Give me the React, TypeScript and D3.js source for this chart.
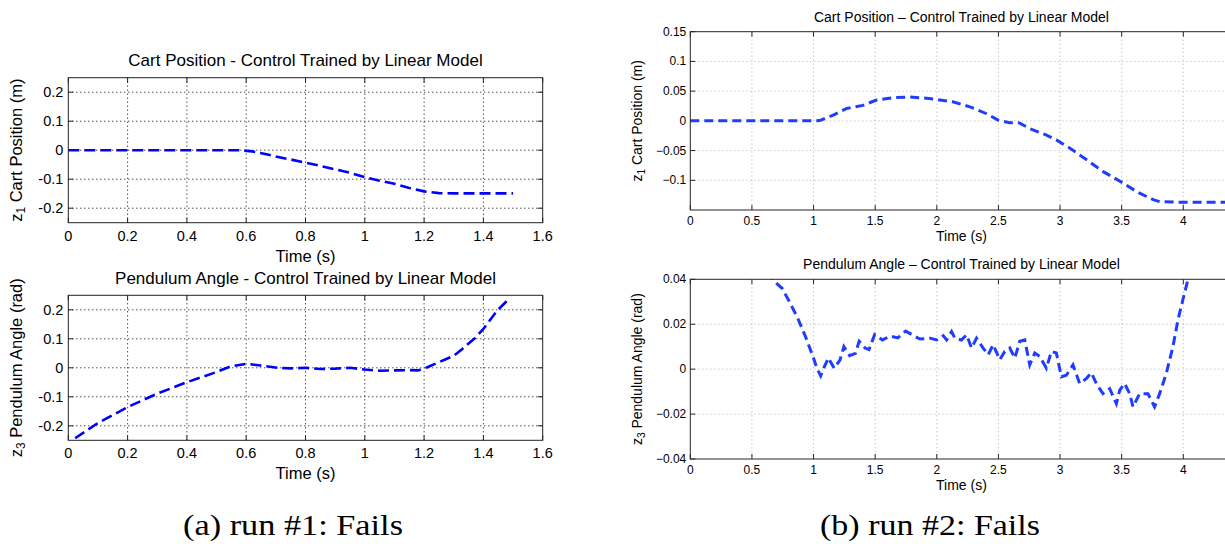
import React from "react";
import * as d3 from "d3";

// ---------- data ----------
const timeTicksA = [0, 0.2, 0.4, 0.6, 0.8, 1, 1.2, 1.4, 1.6];
const valueTicksA = [-0.2, -0.1, 0, 0.1, 0.2];

const cartTime1 = [0, 0.1, 0.2, 0.3, 0.4, 0.5, 0.58, 0.62, 0.66, 0.7, 0.75, 0.8, 0.85, 0.9, 0.95, 1.0, 1.05, 1.1, 1.15, 1.2, 1.25, 1.3, 1.4, 1.5];
const cartPos1 = [0, 0, 0, 0, 0, 0, 0, -0.004, -0.012, -0.022, -0.032, -0.043, -0.054, -0.066, -0.078, -0.093, -0.105, -0.116, -0.13, -0.142, -0.148, -0.149, -0.149, -0.149];

const pendTime1 = [0.023, 0.096, 0.199, 0.298, 0.399, 0.499, 0.546, 0.6, 0.648, 0.704, 0.75, 0.8, 0.85, 0.9, 0.95, 1.0, 1.05, 1.1, 1.15, 1.18, 1.211, 1.267, 1.301, 1.329, 1.369, 1.4, 1.447, 1.481];
const pendAng1 = [-0.243, -0.193, -0.136, -0.09, -0.05, -0.015, 0.0045, 0.0137, 0.008, 0.0, -0.002, 0.0, -0.004, -0.003, 0.0, -0.006, -0.01, -0.009, -0.008, -0.009, 0.002, 0.027, 0.042, 0.065, 0.1, 0.134, 0.198, 0.232];

const timeTicksB = [0, 0.5, 1, 1.5, 2, 2.5, 3, 3.5, 4];
const cartTicksB = [-0.1, -0.05, 0, 0.05, 0.1, 0.15];
const pendTicksB = [-0.04, -0.02, 0, 0.02, 0.04];

const cartTime2 = [0, 0.5, 1.0, 1.05, 1.16, 1.27, 1.4, 1.51, 1.65, 1.78, 1.89, 2.0, 2.13, 2.27, 2.4, 2.5, 2.59, 2.67, 2.75, 2.89, 2.97, 3.08, 3.22, 3.35, 3.49, 3.62, 3.76, 3.81, 4.0, 4.4];
const cartPos2 = [0, 0, 0, 0.0005, 0.0096, 0.021, 0.026, 0.035, 0.039, 0.04, 0.0386, 0.036, 0.032, 0.0235, 0.0124, 0.001, -0.003, -0.0034, -0.0128, -0.024, -0.032, -0.046, -0.066, -0.0855, -0.102, -0.119, -0.133, -0.136, -0.137, -0.137];

const pendTime2 = [
  0.55, 0.667, 0.745, 0.808, 0.87, 0.933, 0.995, 1.027, 1.058, 1.089, 1.12,
  1.167, 1.214, 1.246, 1.293, 1.34, 1.37, 1.418, 1.45, 1.496, 1.559,
  1.62, 1.684, 1.747, 1.81,
  1.863, 1.944, 1.998, 2.052, 2.08, 2.12, 2.147, 2.2, 2.241, 2.282,
  2.322, 2.376, 2.417, 2.457, 2.511, 2.552, 2.592, 2.633, 2.673, 2.714,
  2.754, 2.795, 2.835, 2.889, 2.93, 2.97, 3.011, 3.051, 3.105, 3.159,
  3.213, 3.254, 3.294, 3.348, 3.403, 3.457, 3.484, 3.524, 3.565, 3.592,
  3.646, 3.713, 3.767, 3.808, 3.862, 3.916, 3.957, 3.997, 4.038, 4.08,
];
const pendAng2 = [
  0.055, 0.0398, 0.036, 0.0296, 0.0229, 0.0147, 0.0057, 0.0004, -0.003, 0.0012, 0.005,
  0.0004, 0.004, 0.01, 0.006, 0.007, 0.0124, 0.0094, 0.0087, 0.0154, 0.013,
  0.0147, 0.0139, 0.0169, 0.015,
  0.0134, 0.0138, 0.013, 0.0149, 0.013, 0.0167, 0.0138, 0.013, 0.0153, 0.0094,
  0.0138, 0.0094, 0.0064, 0.0109, 0.0042, 0.0079, 0.0094, 0.0049, 0.0124, 0.013,
  0.0019, 0.0072, 0.0057, 0.0004, 0.0079, 0.0072, -0.0034, -0.0027, 0.0019, -0.0064,
  -0.0042, -0.0016, -0.0064, -0.0109, -0.0087, -0.0154, -0.0094, -0.0064, -0.0109, -0.0168,
  -0.0109, -0.0109, -0.0168, -0.0109, -0.0019, 0.0101, 0.022, 0.031, 0.04, 0.05,
];

const titleCartA = "Cart Position - Control Trained by Linear Model";
const titlePendA = "Pendulum Angle - Control Trained by Linear Model";
const titleCartB = "Cart Position \u2013 Control Trained by Linear Model";
const titlePendB = "Pendulum Angle \u2013 Control Trained by Linear Model";
const captionA = "(a) run #1: Fails";
const captionB = "(b) run #2: Fails";

// ---------- panel ----------
type PanelProps = {
  id: string;
  box: { x0: number; x1: number; y0: number; y1: number };
  xDomain: [number, number];
  yDomain: [number, number];
  xTicks: number[];
  yTicks: number[];
  xs: number[];
  ys: number[];
  title: string;
  yLabelMain: string;
  sub: string;
  style: any;
};

function fmt(v: number) {
  return String(Math.round(v * 1000) / 1000);
}

function Panel(p: PanelProps) {
  const { box, style: st } = p;
  const x = d3.scaleLinear().domain(p.xDomain).range([box.x0, box.x1]);
  const y = d3.scaleLinear().domain(p.yDomain).range([box.y1, box.y0]);
  const line = d3
    .line<[number, number]>()
    .x((d) => x(d[0]))
    .y((d) => y(d[1]));
  const pts = d3.zip(p.xs, p.ys) as [number, number][];
  const tl = st.tickLen;
  const minus = (s: string) => (st.unicodeMinus ? s.replace("-", "\u2212") : s);
  const cx = (box.x0 + box.x1) / 2;
  const cy = (box.y0 + box.y1) / 2;
  return (
    <g fontFamily={st.font} fill="#000">
      <defs>
        <clipPath id={p.id}>
          <rect x={box.x0} y={box.y0} width={box.x1 - box.x0} height={box.y1 - box.y0} />
        </clipPath>
      </defs>
      {p.xTicks.filter((t) => t > p.xDomain[0] && t < p.xDomain[1]).map((t) => (
        <line key={"gx" + t} x1={x(t)} x2={x(t)} y1={box.y0} y2={box.y1} stroke={st.gridColor} strokeWidth={1} strokeDasharray="1,3" />
      ))}
      {p.yTicks.filter((t) => t > p.yDomain[0] && t < p.yDomain[1]).map((t) => (
        <line key={"gy" + t} x1={box.x0} x2={box.x1} y1={y(t)} y2={y(t)} stroke={st.gridColor} strokeWidth={1} strokeDasharray="1,3" />
      ))}
      {p.xTicks.map((t) => (
        <g key={"tx" + t}>
          <line x1={x(t)} x2={x(t)} y1={box.y1} y2={box.y1 - tl} stroke={st.axisColor} />
          <line x1={x(t)} x2={x(t)} y1={box.y0} y2={box.y0 + tl} stroke={st.axisColor} />
        </g>
      ))}
      {p.yTicks.map((t) => (
        <g key={"ty" + t}>
          <line x1={box.x0} x2={box.x0 + tl} y1={y(t)} y2={y(t)} stroke={st.axisColor} />
          <line x1={box.x1} x2={box.x1 - tl} y1={y(t)} y2={y(t)} stroke={st.axisColor} />
        </g>
      ))}
      <path
        d={line(pts) || ""}
        fill="none"
        stroke={st.lineColor}
        strokeWidth={st.lineWidth}
        strokeDasharray={st.dash}
        clipPath={`url(#${p.id})`}
      />
      <rect x={box.x0} y={box.y0} width={box.x1 - box.x0} height={box.y1 - box.y0} fill="none" stroke={st.axisColor} strokeWidth={1} />
      {p.xTicks.map((t) => (
        <text key={"lx" + t} x={x(t)} y={box.y1 + st.xLabOff} textAnchor="middle" dominantBaseline="central" fontSize={st.tickFont}>
          {fmt(t)}
        </text>
      ))}
      {p.yTicks.map((t) => (
        <text key={"ly" + t} x={box.x0 - st.yLabOff} y={y(t)} textAnchor="end" dominantBaseline="central" fontSize={st.tickFont}>
          {minus(fmt(t))}
        </text>
      ))}
      <text x={cx} y={box.y0 - st.titleOff} textAnchor="middle" dominantBaseline="central" fontSize={st.titleFont}>
        {p.title}
      </text>
      <text x={cx} y={box.y1 + st.xTitleOff} textAnchor="middle" dominantBaseline="central" fontSize={st.labelFont}>
        Time (s)
      </text>
      <text
        transform={`translate(${st.yTitleX},${cy}) rotate(-90)`}
        textAnchor="middle"
        dominantBaseline="central"
        fontSize={st.labelFont}
      >
        z<tspan fontSize={st.labelFont * 0.72} dy={st.labelFont * 0.3}>{p.sub}</tspan>
        <tspan dy={-st.labelFont * 0.3}>{" " + p.yLabelMain}</tspan>
      </text>
    </g>
  );
}

const styleA = {
  font: "'Liberation Sans', Arial, sans-serif",
  gridColor: "#000",
  axisColor: "#222",
  lineColor: "#0000ff",
  lineWidth: 2.6,
  dash: "11,5",
  tickLen: 5,
  tickFont: 14.5,
  titleFont: 17,
  labelFont: 16.5,
  xLabOff: 13,
  yLabOff: 5,
  titleOff: 17,
  xTitleOff: 33,
  yTitleX: 16,
  unicodeMinus: false,
};

const styleB = {
  font: "'Liberation Sans', Arial, sans-serif",
  gridColor: "#b0b0b0",
  axisColor: "#262626",
  lineColor: "#1f3dff",
  lineWidth: 3,
  dash: "9,5",
  tickLen: 5,
  tickFont: 12,
  titleFont: 14,
  labelFont: 14,
  xLabOff: 11,
  yLabOff: 4,
  titleOff: 15,
  xTitleOff: 26,
  yTitleX: 637,
  unicodeMinus: true,
};

const captionFont = "'Liberation Serif', 'Times New Roman', serif";

export default function App() {
  const xA0 = 68.3, xA1 = 542.7;
  const xB0 = 690.3, xB1 = 690.3 + 4.4 * 123.25;
  return (
    <svg width={1225} height={544} style={{ position: "absolute", left: 0, top: 0, background: "#fff" }}>
      <rect x={0} y={0} width={1225} height={544} fill="#fff" />
      <Panel
        id="cA1"
        box={{ x0: xA0, x1: xA1, y0: 77.7, y1: 222.7 }}
        xDomain={[0, 1.6]}
        yDomain={[-0.25, 0.25]}
        xTicks={timeTicksA}
        yTicks={valueTicksA}
        xs={cartTime1}
        ys={cartPos1}
        title={titleCartA}
        yLabelMain="Cart Position (m)"
        sub="1"
        style={styleA}
      />
      <Panel
        id="cA2"
        box={{ x0: xA0, x1: xA1, y0: 295.3, y1: 440.3 }}
        xDomain={[0, 1.6]}
        yDomain={[-0.25, 0.25]}
        xTicks={timeTicksA}
        yTicks={valueTicksA}
        xs={pendTime1}
        ys={pendAng1}
        title={titlePendA}
        yLabelMain="Pendulum Angle (rad)"
        sub="3"
        style={styleA}
      />
      <Panel
        id="cB1"
        box={{ x0: xB0, x1: xB1, y0: 31.7, y1: 210 }}
        xDomain={[0, 4.4]}
        yDomain={[-0.15, 0.15]}
        xTicks={timeTicksB}
        yTicks={cartTicksB}
        xs={cartTime2}
        ys={cartPos2}
        title={titleCartB}
        yLabelMain="Cart Position (m)"
        sub="1"
        style={styleB}
      />
      <Panel
        id="cB2"
        box={{ x0: xB0, x1: xB1, y0: 279.3, y1: 459 }}
        xDomain={[0, 4.4]}
        yDomain={[-0.04, 0.04]}
        xTicks={timeTicksB}
        yTicks={pendTicksB}
        xs={pendTime2}
        ys={pendAng2}
        title={titlePendB}
        yLabelMain="Pendulum Angle (rad)"
        sub="3"
        style={styleB}
      />
      <text x={183} y={535} fontFamily={captionFont} fontSize={29} textLength={220} lengthAdjust="spacingAndGlyphs">
        {captionA}
      </text>
      <text x={820} y={535} fontFamily={captionFont} fontSize={29} textLength={220} lengthAdjust="spacingAndGlyphs">
        {captionB}
      </text>
    </svg>
  );
}
